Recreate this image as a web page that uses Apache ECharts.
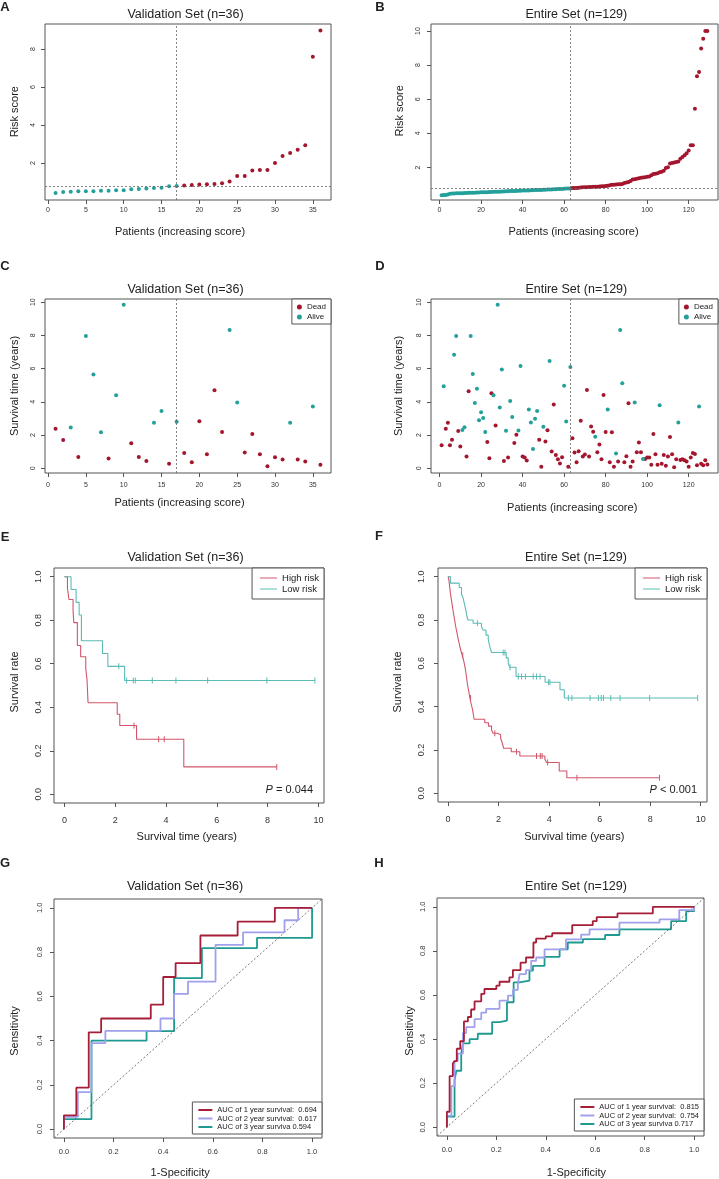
<!DOCTYPE html>
<html><head><meta charset="utf-8">
<script src="https://cdn.jsdelivr.net/npm/echarts@6/dist/echarts.min.js"></script>
<style>html,body{margin:0;padding:0;background:#fff}#c{width:719px;height:1179px}</style>
</head><body><div id="c"></div>
<script>
// ---------------- DATA ----------------
// Panel A: validation set risk scores (patients ordered by increasing score)
const riskScoreA = [0.42,0.47,0.49,0.51,0.51,0.51,0.54,0.54,0.56,0.56,
  0.61,0.63,0.65,0.68,0.70,0.77,0.79,0.82,0.84,0.86,
  0.88,0.89,0.93,1.02,1.32,1.32,1.61,1.63,1.63,2.00,
  2.37,2.53,2.70,2.93,7.60,8.98];
const cutIndexA = 17, cutScoreA = 0.79;
// Panel B: entire set risk scores
const riskScoreB = [0.38,0.39,0.40,0.42,0.47,0.48,0.48,0.49,0.49,0.50,
  0.50,0.51,0.51,0.52,0.52,0.53,0.53,0.54,0.54,0.55,
  0.55,0.56,0.56,0.57,0.57,0.58,0.58,0.59,0.59,0.60,
  0.60,0.61,0.61,0.62,0.62,0.63,0.63,0.64,0.64,0.65,
  0.65,0.66,0.66,0.67,0.67,0.68,0.68,0.69,0.69,0.70,
  0.70,0.71,0.71,0.72,0.73,0.73,0.74,0.75,0.75,0.76,
  0.77,0.77,0.78,0.80,0.81,0.81,0.82,0.83,0.84,0.85,
  0.85,0.86,0.86,0.87,0.87,0.88,0.89,0.90,0.91,0.92,
  0.94,0.96,0.99,1.00,1.01,1.02,1.02,1.03,1.10,1.13,
  1.15,1.22,1.30,1.32,1.34,1.37,1.40,1.42,1.44,1.46,
  1.48,1.55,1.62,1.64,1.66,1.72,1.76,1.82,1.98,2.02,
  2.24,2.27,2.30,2.33,2.36,2.52,2.62,2.72,2.84,3.00,
  3.30,3.31,5.45,7.35,7.60,8.98,9.55,10.0,10.0];
const cutIndexB = 63, cutScoreB = 0.79;
// Panel C: validation survival time (years) and status (1 = dead, 0 = alive)
const survTimeC = [2.38,1.70,2.45,0.68,7.96,5.65,2.16,0.58,4.39,9.84,
  1.50,0.68,0.44,2.73,3.45,0.26,2.80,0.92,0.36,2.83,
  0.84,4.69,2.18,8.32,3.95,0.94,2.06,0.84,0.12,0.66,
  0.52,2.73,0.52,0.40,3.71,0.20];
const statusC = [1,1,0,1,0,0,0,1,0,0, 1,1,1,0,0,1,0,1,1,1, 1,1,1,0,0,1,1,1,1,1, 1,0,1,1,0,1];
// Panel D: entire set survival time and status
const survTimeD = [1.38,4.93,2.38,2.73,1.38,1.72,6.83,7.96,2.24,1.30,
  2.30,2.47,0.70,4.63,7.96,5.67,3.93,4.79,2.89,3.37,
  3.03,2.18,1.58,0.60,4.51,4.39,2.57,9.84,3.65,5.95,
  0.44,2.25,0.64,4.05,3.09,1.52,2.02,2.27,6.15,0.70,
  0.64,0.46,3.53,2.75,1.16,2.97,3.45,1.72,0.08,2.49,
  1.60,2.28,6.45,1.00,3.83,0.80,0.54,0.28,0.66,4.97,
  2.81,0.08,6.09,1.80,0.94,0.36,1.02,2.85,0.70,0.82,
  4.71,0.70,2.51,2.20,1.90,0.96,1.42,0.54,4.41,2.18,
  3.53,0.36,2.16,0.08,0.88,0.40,8.32,5.11,0.36,0.72,
  3.91,0.08,0.40,3.95,0.96,1.54,0.96,0.56,0.56,0.64,
  0.64,0.20,2.06,0.84,0.20,3.79,0.26,0.80,0.14,0.70,
  1.88,0.84,0.06,0.54,2.75,0.50,0.54,0.48,0.40,0.08,
  0.64,0.92,0.86,0.18,3.71,0.26,0.18,0.48,0.22];
const statusD = [1,0,1,1,1,1,0,0,1,1, 0,0,1,1,0,0,0,0,0,0, 0,0,1,1,1,0,1,0,0,0,
  1,0,1,0,0,1,1,0,0,1, 1,1,0,0,0,0,0,1,1,0, 1,1,0,1,1,1,1,1,1,0,
  0,1,0,1,1,1,1,1,1,1, 1,1,1,1,0,1,1,1,1,1, 0,1,1,1,0,1,0,0,1,1,
  1,1,1,0,1,1,1,0,1,1, 1,1,1,1,1,0,1,1,1,1, 1,1,1,1,0,1,1,1,1,1,
  1,1,1,1,0,1,1,1,1];
// Panel E: Kaplan-Meier steps [time, survival] and censor marks
const kmHighE = [[0,1],[0.12,0.947],[0.18,0.895],[0.34,0.842],[0.37,0.789],[0.51,0.684],[0.64,0.632],
  [0.84,0.579],[0.89,0.526],[0.93,0.421],[2.08,0.368],[2.18,0.316],[2.84,0.253],[4.70,0.126],[8.36,0.126]];
const kmLowE = [[0,1],[0.26,0.941],[0.46,0.882],[0.58,0.824],[0.67,0.706],[1.50,0.647],[1.71,0.588],
  [2.37,0.523],[9.86,0.523]];
const censorHighE = [[2.74,0.316],[3.71,0.253],[3.93,0.253],[8.36,0.126]];
const censorLowE = [[2.14,0.588],[2.45,0.523],[2.71,0.523],[2.79,0.523],[3.46,0.523],[4.39,0.523],
  [5.64,0.523],[7.97,0.523],[9.86,0.523]];
const pTextE = '= 0.044';
// Panel F
const kmHighF = [[0,1],[0.03,0.985],[0.06,0.955],[0.09,0.925],[0.13,0.894],[0.17,0.864],[0.21,0.833],
  [0.26,0.80],[0.30,0.77],[0.35,0.742],[0.40,0.712],[0.46,0.68],[0.52,0.652],[0.56,0.637],[0.63,0.606],
  [0.68,0.576],[0.72,0.545],[0.77,0.50],[0.82,0.47],[0.86,0.44],[0.92,0.41],[0.97,0.385],[1.03,0.342],
  [1.45,0.326],[1.60,0.31],[1.72,0.292],[1.78,0.277],[1.95,0.27],[2.08,0.254],[2.15,0.23],[2.20,0.208],
  [2.50,0.192],[2.84,0.172],[3.83,0.157],[3.90,0.142],[4.40,0.103],[4.70,0.072],[8.37,0.072]];
const kmLowF = [[0,1],[0.09,0.97],[0.44,0.95],[0.53,0.92],[0.60,0.90],[0.64,0.877],[0.70,0.846],
  [0.75,0.815],[0.79,0.80],[0.99,0.785],[1.32,0.77],[1.38,0.754],[1.50,0.73],[1.59,0.708],[1.65,0.677],
  [1.72,0.65],[2.30,0.625],[2.38,0.60],[2.44,0.582],[2.69,0.539],[3.84,0.513],[4.43,0.478],[4.60,0.44],
  [9.88,0.44]];
const censorHighF = [[0.58,0.637],[0.89,0.44],[1.85,0.277],[2.71,0.192],[3.50,0.172],[3.65,0.172],
  [3.72,0.172],[3.94,0.142],[5.10,0.072],[8.37,0.072]];
const censorLowF = [[1.16,0.785],[2.18,0.65],[2.25,0.65],[2.45,0.582],[2.78,0.539],[2.91,0.539],
  [3.06,0.539],[3.37,0.539],[3.50,0.539],[3.64,0.539],[3.97,0.513],[4.03,0.513],[4.76,0.44],[4.90,0.44],
  [5.62,0.44],[5.95,0.44],[6.06,0.44],[6.15,0.44],[6.44,0.44],[6.81,0.44],[7.98,0.44],[9.88,0.44]];
const pTextF = '< 0.001';
// Panel G: ROC curves [1-specificity, sensitivity]
const rocG1 = [[0,0],[0,0.0625],[0.05,0.0625],[0.05,0.1875],[0.1,0.1875],[0.1,0.4375],[0.15,0.4375],
  [0.15,0.5],[0.35,0.5],[0.35,0.5625],[0.4,0.5625],[0.4,0.6875],[0.45,0.6875],[0.45,0.75],[0.55,0.75],
  [0.55,0.875],[0.7,0.875],[0.7,0.9375],[0.85,0.9375],[0.85,1],[1,1]];
const rocG2 = [[0,0],[0,0.056],[0.056,0.056],[0.056,0.167],[0.111,0.167],[0.111,0.389],[0.167,0.389],
  [0.167,0.444],[0.389,0.444],[0.389,0.5],[0.444,0.5],[0.444,0.611],[0.5,0.611],[0.5,0.667],
  [0.611,0.667],[0.611,0.833],[0.722,0.833],[0.722,0.889],[0.889,0.889],[0.889,0.944],[0.944,0.944],
  [0.944,1],[1,1]];
const rocG3 = [[0,0],[0,0.045],[0.111,0.045],[0.111,0.4],[0.333,0.4],[0.333,0.443],[0.444,0.443],
  [0.444,0.682],[0.556,0.682],[0.556,0.818],[0.778,0.818],[0.778,0.864],[1,0.864],[1,1]];
const rocNamesG = ['AUC of 1 year survival:  0.694','AUC of 2 year survival:  0.617','AUC of 3 year surviva 0.594'];
// Panel H
const rocH1 = [[0,0],[0,0.07],[0.011,0.07],[0.011,0.232],[0.024,0.232],[0.024,0.289],[0.031,0.289],
  [0.031,0.30],[0.04,0.30],[0.04,0.356],[0.054,0.356],[0.054,0.39],[0.069,0.39],[0.069,0.48],
  [0.085,0.48],[0.085,0.5],[0.098,0.5],[0.098,0.534],[0.112,0.534],[0.112,0.571],[0.139,0.571],
  [0.139,0.605],[0.152,0.605],[0.152,0.627],[0.2,0.627],[0.2,0.642],[0.213,0.642],[0.213,0.66],
  [0.253,0.66],[0.253,0.68],[0.267,0.68],[0.267,0.713],[0.298,0.713],[0.298,0.747],[0.32,0.747],
  [0.32,0.77],[0.35,0.77],[0.35,0.838],[0.361,0.838],[0.361,0.856],[0.4,0.856],[0.4,0.866],
  [0.426,0.866],[0.426,0.88],[0.507,0.88],[0.507,0.917],[0.59,0.917],[0.59,0.935],[0.606,0.935],
  [0.606,0.953],[0.69,0.953],[0.69,0.97],[0.833,0.97],[0.833,1],[1,1]];
const rocH2 = [[0,0],[0,0.051],[0.018,0.051],[0.018,0.186],[0.031,0.186],[0.031,0.30],[0.044,0.30],
  [0.044,0.334],[0.065,0.334],[0.065,0.427],[0.078,0.427],[0.078,0.454],[0.112,0.454],[0.112,0.49],
  [0.139,0.49],[0.139,0.52],[0.159,0.52],[0.159,0.537],[0.213,0.537],[0.213,0.574],[0.247,0.574],
  [0.247,0.597],[0.267,0.597],[0.267,0.623],[0.287,0.623],[0.287,0.65],[0.294,0.65],[0.294,0.695],
  [0.32,0.695],[0.32,0.713],[0.341,0.713],[0.341,0.755],[0.361,0.755],[0.361,0.77],[0.395,0.77],
  [0.395,0.807],[0.482,0.807],[0.482,0.852],[0.543,0.852],[0.543,0.874],[0.577,0.874],[0.577,0.898],
  [0.698,0.898],[0.698,0.928],[0.86,0.928],[0.86,0.943],[0.94,0.943],[0.94,0.985],[1,0.985],[1,1]];
const rocH3 = [[0,0],[0,0.048],[0.031,0.048],[0.031,0.213],[0.038,0.213],[0.038,0.256],[0.058,0.256],
  [0.058,0.334],[0.065,0.334],[0.065,0.38],[0.092,0.38],[0.092,0.40],[0.125,0.40],[0.125,0.424],
  [0.183,0.424],[0.183,0.477],[0.213,0.477],[0.213,0.484],[0.243,0.484],[0.243,0.567],[0.27,0.567],
  [0.27,0.657],[0.294,0.657],[0.294,0.665],[0.334,0.665],[0.334,0.71],[0.348,0.71],[0.348,0.732],
  [0.395,0.732],[0.395,0.773],[0.456,0.773],[0.456,0.807],[0.489,0.807],[0.489,0.838],[0.55,0.838],
  [0.55,0.853],[0.64,0.853],[0.64,0.872],[0.698,0.872],[0.698,0.898],[0.907,0.898],[0.907,0.935],
  [0.968,0.935],[0.968,0.98],[1,0.98],[1,1]];
const rocNamesH = ['AUC of 1 year survival:  0.815','AUC of 2 year survival:  0.754','AUC of 3 year surviva 0.717'];
// Tick values
const ticksPat36 = [0,5,10,15,20,25,30,35];
const ticksPat129 = [0,20,40,60,80,100,120];
const ticksRiskA = [2,4,6,8];
const ticksRiskB = [2,4,6,8,10];
const ticksSurvYears = [0,2,4,6,8,10];
const ticksUnit = [0,0.2,0.4,0.6,0.8,1.0];
const titleVal = 'Validation Set (n=36)', titleAll = 'Entire Set (n=129)';

// ---------------- STYLE / LAYOUT ----------------
const FONT = '"Liberation Sans", Arial, Helvetica, sans-serif';
const TEAL = '#23A09A', RED = '#A3162D';
const KM_RED = '#D1566A', KM_TEAL = '#5ABCB5';
const ROC_RED = '#A61E38', ROC_PUR = '#A0A0EC', ROC_TEAL = '#1E9A91';
const grids = [
  {left:45, top:24, width:286, height:176},
  {left:431, top:24, width:287, height:176},
  {left:45, top:299, width:286, height:174},
  {left:431, top:299, width:287, height:174},
  {left:54, top:568, width:270, height:235},
  {left:438, top:568, width:269, height:234},
  {left:54, top:899, width:268, height:239},
  {left:437, top:898, width:267, height:238}
].map(g => Object.assign({show:true, borderColor:'#555', borderWidth:1, backgroundColor:'transparent'}, g));

const f0 = v => String(v), f1 = v => v.toFixed(1);
function axis(dim, gi, min, max, ticks, fs, margin, fmt) {
  return {type:'value', gridIndex:gi, min:min, max:max,
    axisLine:{show:false, onZero:false}, splitLine:{show:false},
    axisTick:{show:true, length:4, customValues:ticks, lineStyle:{color:'#555', width:1}},
    axisLabel:{customValues:ticks, fontSize:fs, color:'#333', margin:margin, fontFamily:FONT,
      formatter:fmt, rotate: dim === 'y' ? 90 : 0}};
}
const xAxes = [
  axis('x',0,-0.4,37.4,ticksPat36,7,7,f0),
  axis('x',1,-4.12,134.12,ticksPat129,7,7,f0),
  axis('x',2,-0.4,37.4,ticksPat36,7,9,f0),
  axis('x',3,-4.12,134.12,ticksPat129,7,9,f0),
  axis('x',4,-0.41,10.22,ticksSurvYears,9,13,f0),
  axis('x',5,-0.4,10.25,ticksSurvYears,9,13,f0),
  axis('x',6,-0.04,1.04,ticksUnit,7.5,10,f1),
  axis('x',7,-0.04,1.04,ticksUnit,7.5,10,f1)
];
const yAxes = [
  axis('y',0,0.05,9.32,ticksRiskA,7,8,f0),
  axis('y',1,0.1,10.41,ticksRiskB,7,9,f0),
  axis('y',2,-0.29,10.19,ticksSurvYears,7,8,f0),
  axis('y',3,-0.29,10.19,ticksSurvYears,7,8,f0),
  axis('y',4,-0.04,1.04,ticksUnit,9,11,f1),
  axis('y',5,-0.04,1.04,ticksUnit,9,12,f1),
  axis('y',6,-0.04,1.04,ticksUnit,7.5,10,f1),
  axis('y',7,-0.04,1.04,ticksUnit,7.5,10,f1)
];

const dash = {type:[2,2], color:'#666', width:0.8};
function riskSeries(gi, scores, cutIdx, cutVal) {
  const low = [], high = [];
  scores.forEach((v, i) => (i + 1 <= cutIdx ? low : high).push([i + 1, v]));
  return [
    {type:'scatter', name:'low'+gi, xAxisIndex:gi, yAxisIndex:gi, data:low, symbolSize:4,
      itemStyle:{color:TEAL, opacity:1}, markLine:{silent:true, symbol:'none', label:{show:false}, lineStyle:dash,
      data:[{xAxis:cutIdx},{yAxis:cutVal}]}},
    {type:'scatter', name:'high'+gi, xAxisIndex:gi, yAxisIndex:gi, data:high, symbolSize:4, itemStyle:{color:RED, opacity:1}}
  ];
}
function statusSeries(gi, times, status, cutIdx) {
  const dead = [], alive = [];
  times.forEach((t, i) => (status[i] ? dead : alive).push([i + 1, t]));
  return [
    {type:'scatter', name:'Dead', xAxisIndex:gi, yAxisIndex:gi, data:dead, symbolSize:4, itemStyle:{color:RED, opacity:1},
      markLine:{silent:true, symbol:'none', label:{show:false}, lineStyle:dash, data:[{xAxis:cutIdx}]}},
    {type:'scatter', name:'Alive', xAxisIndex:gi, yAxisIndex:gi, data:alive, symbolSize:4, itemStyle:{color:TEAL, opacity:1}}
  ];
}
function kmSeries(gi, high, low, cHigh, cLow) {
  const ln = (name, data, c) => ({type:'line', name:name, xAxisIndex:gi, yAxisIndex:gi, data:data, step:'end',
    symbol:'none', showSymbol:false, itemStyle:{color:c}, lineStyle:{color:c, width:1.1}, z:2});
  const cs = (name, data, c) => ({type:'scatter', name:name, xAxisIndex:gi, yAxisIndex:gi, data:data,
    symbol:'rect', symbolSize:[1,6], itemStyle:{color:c, opacity:1}, z:3});
  return [ln('High risk', high, KM_RED), cs('censH'+gi, cHigh, KM_RED),
          ln('Low risk', low, KM_TEAL), cs('censL'+gi, cLow, KM_TEAL)];
}
function rocSeries(gi, curves, names) {
  const cols = [ROC_RED, ROC_PUR, ROC_TEAL];
  const out = curves.map((d, k) => ({type:'line', name:names[k], xAxisIndex:gi, yAxisIndex:gi, data:d,
    symbol:'none', showSymbol:false, itemStyle:{color:cols[k]}, lineStyle:{color:cols[k], width:1.8}, z:3 - k}));
  out.push({type:'line', name:'diag'+gi, xAxisIndex:gi, yAxisIndex:gi, data:[[-0.04,-0.04],[1.04,1.04]],
    symbol:'none', itemStyle:{color:'#555'}, lineStyle:{type:[2,2], color:'#555', width:0.8}, z:1});
  return out;
}

const series = [].concat(
  riskSeries(0, riskScoreA, cutIndexA, cutScoreA),
  riskSeries(1, riskScoreB, cutIndexB, cutScoreB),
  statusSeries(2, survTimeC, statusC, cutIndexA),
  statusSeries(3, survTimeD, statusD, cutIndexB),
  kmSeries(4, kmHighE, kmLowE, censorHighE, censorLowE),
  kmSeries(5, kmHighF, kmLowF, censorHighF, censorLowF),
  rocSeries(6, [rocG1, rocG2, rocG3], rocNamesG),
  rocSeries(7, [rocH1, rocH2, rocH3], rocNamesH)
);

function legendBox(opts) {
  return Object.assign({orient:'vertical', align:'left', borderColor:'#555', borderWidth:1, borderRadius:0,
    backgroundColor:'#fff', selectedMode:false,
    textStyle:{fontFamily:FONT, color:'#222'}}, opts);
}
const legends = [
  legendBox({data:['Dead','Alive'], right:388, top:299, icon:'circle', itemWidth:5, itemHeight:5, itemGap:2,
    padding:[4,5,3,5], textStyle:{fontFamily:FONT, color:'#222', fontSize:8}}),
  legendBox({data:['Dead','Alive'], right:1, top:299, icon:'circle', itemWidth:5, itemHeight:5, itemGap:2,
    padding:[4,5,3,5], textStyle:{fontFamily:FONT, color:'#222', fontSize:8}}),
  legendBox({data:['High risk','Low risk'], right:395, top:568, icon:'rect', itemWidth:17, itemHeight:1, itemGap:1,
    padding:[5,5,5,8], textStyle:{fontFamily:FONT, color:'#222', fontSize:9.5}}),
  legendBox({data:['High risk','Low risk'], right:12, top:568, icon:'rect', itemWidth:17, itemHeight:1, itemGap:1,
    padding:[5,5,5,8], textStyle:{fontFamily:FONT, color:'#222', fontSize:9.5}}),
  legendBox({data:rocNamesG, right:397, top:1102, icon:'rect', itemWidth:14, itemHeight:2, itemGap:0.5,
    padding:[4,5,3,6], textStyle:{fontFamily:FONT, color:'#222', fontSize:7.5}}),
  legendBox({data:rocNamesH, right:15, top:1099, icon:'rect', itemWidth:14, itemHeight:2, itemGap:0.5,
    padding:[4,5,3,6], textStyle:{fontFamily:FONT, color:'#222', fontSize:7.5}})
];

function txt(x, y, text, size, o) {
  o = o || {};
  return {type:'text', x:x, y:y, rotation:o.rot || 0, silent:true, z:50,
    style:{text:text, fontSize:size, fontFamily:FONT, fontWeight:o.bold ? 'bold' : 'normal',
      fontStyle:o.italic ? 'italic' : 'normal', fill:o.color || '#222',
      align:o.align || 'center', textAlign:o.align || 'center', verticalAlign:'middle', textVerticalAlign:'middle',
      rich:o.rich}};
}
const R90 = Math.PI / 2;
const graphics = [
  txt(5,7.5,'A',13,{bold:true}), txt(380,7.5,'B',13,{bold:true}),
  txt(5,266,'C',13,{bold:true}), txt(380,266.5,'D',13,{bold:true}),
  txt(5,537,'E',13,{bold:true}), txt(379,536.7,'F',13,{bold:true}),
  txt(5,863.5,'G',13,{bold:true}), txt(379,863.5,'H',13,{bold:true}),
  txt(185.5,15,titleVal,12.5), txt(576.3,15,titleAll,12.5),
  txt(185.5,289.3,titleVal,12.5), txt(576.3,289.3,titleAll,12.5),
  txt(185.5,557.7,titleVal,12.5), txt(576,557.7,titleAll,12.5),
  txt(185,886.7,titleVal,12.5), txt(576,886.7,titleAll,12.5),
  txt(180,231.7,'Patients (increasing score)',11), txt(573.5,231.7,'Patients (increasing score)',11),
  txt(179.5,502.7,'Patients (increasing score)',11), txt(572.2,507.7,'Patients (increasing score)',11),
  txt(186.7,837.3,'Survival time (years)',11), txt(574.3,837.3,'Survival time (years)',11),
  txt(180.2,1173,'1-Specificity',11), txt(576.3,1173,'1-Specificity',11),
  txt(15,111.7,'Risk score',11,{rot:R90}), txt(400,110.8,'Risk score',11,{rot:R90}),
  txt(15,386,'Survival time (years)',11,{rot:R90}), txt(399,386,'Survival time (years)',11,{rot:R90}),
  txt(15,682,'Survival rate',11,{rot:R90}), txt(398.3,682,'Survival rate',11,{rot:R90}),
  txt(15,1031,'Sensitivity',11,{rot:R90}), txt(410,1031,'Sensitivity',11,{rot:R90}),
  txt(313,790,'{i|P} ' + pTextE,11,{align:'right', rich:{i:{fontStyle:'italic', fontSize:11, fontFamily:FONT, fill:'#222'}}}),
  txt(697,790,'{i|P} ' + pTextF,11,{align:'right', rich:{i:{fontStyle:'italic', fontSize:11, fontFamily:FONT, fill:'#222'}}})
];

const chart = echarts.init(document.getElementById('c'), null, {renderer:'canvas'});
chart.setOption({
  animation:false,
  backgroundColor:'#fff',
  textStyle:{fontFamily:FONT},
  grid:grids, xAxis:xAxes, yAxis:yAxes,
  legend:legends,
  series:series,
  graphic:{elements:graphics}
});
</script></body></html>
